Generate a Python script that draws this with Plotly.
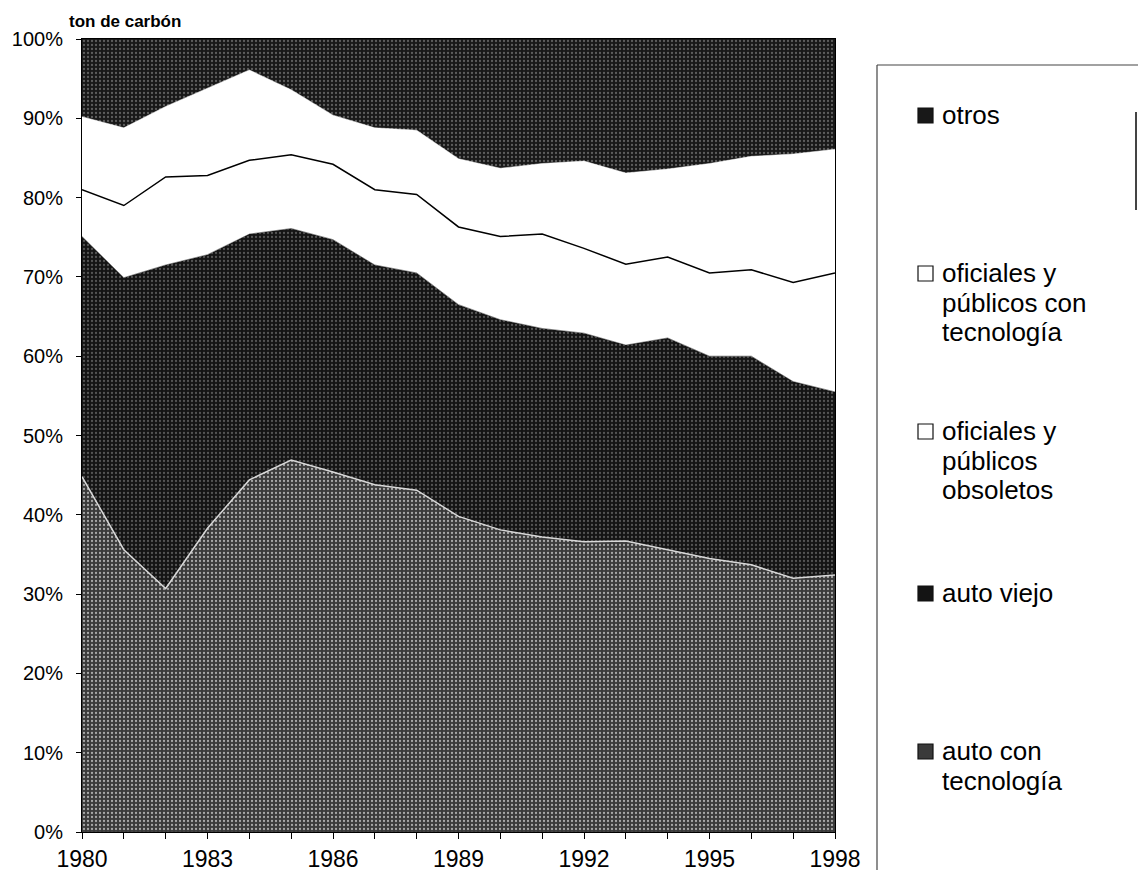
import plotly.graph_objects as go

years = list(range(1980, 1999))
auto_tec = [44.8, 35.6, 30.7, 38.3, 44.4, 46.9, 45.4, 43.8, 43.1, 39.8, 38.1, 37.2, 36.6, 36.7, 35.6, 34.5, 33.7, 32.0, 32.4]
auto_viejo = [30.3, 34.3, 40.8, 34.5, 31.0, 29.2, 29.3, 27.7, 27.4, 26.7, 26.5, 26.3, 26.3, 24.7, 26.7, 25.5, 26.3, 24.8, 23.1]
obsoletos = [5.9, 9.1, 11.1, 10.0, 9.3, 9.3, 9.5, 9.5, 9.9, 9.8, 10.5, 11.9, 10.7, 10.2, 10.2, 10.5, 10.9, 12.5, 15.0]
con_tec = [9.2, 9.8, 8.9, 11.0, 11.4, 8.2, 6.2, 7.8, 8.1, 8.6, 8.6, 8.9, 11.0, 11.5, 11.1, 13.8, 14.3, 16.2, 15.6]
otros = [9.8, 11.2, 8.5, 6.2, 3.9, 6.4, 9.6, 11.2, 11.5, 15.1, 16.3, 15.7, 15.4, 16.9, 16.4, 15.7, 14.8, 14.5, 13.9]

x_labels = {1980: "1980", 1983: "1983", 1986: "1986", 1989: "1989", 1992: "1992", 1995: "1995", 1998: "1998"}
y_ticks = list(range(0, 101, 10))
y_labels = [f"{v}%" for v in y_ticks]

W, H = 1138, 873
L, R, T, B = 82, 835, 39, 832
FONT = "Liberation Sans, Arial, sans-serif"

def px(xp):
    return (xp - L) / (R - L)

def py(yp):
    return (B - yp) / (B - T)

fig = go.Figure()

series = [
    ("auto con tecnología", auto_tec, "#3a3a3a", "#a8a8a8", dict(color="#d8d8d8", width=1.5)),
    ("auto viejo", auto_viejo, "#141414", "#555555", dict(color="#141414", width=0.5)),
    ("oficiales y públicos obsoletos", obsoletos, "#ffffff", "#ffffff", dict(color="#000000", width=1.5)),
    ("oficiales y públicos con tecnología", con_tec, "#ffffff", "#ffffff", dict(color="#ffffff", width=0.5)),
    ("otros", otros, "#181818", "#5e5e5e", dict(color="#181818", width=0.5)),
]

for name, vals, bg, fg, line in series:
    kw = {}
    if bg != "#ffffff":
        kw["fillpattern"] = dict(shape=".", bgcolor=bg, fgcolor=fg, size=4, solidity=0.25, fillmode="replace")
    fig.add_trace(go.Scatter(
        x=years, y=vals, name=name, mode="lines", stackgroup="one",
        fillcolor=bg, line=line, showlegend=False, **kw
    ))

fig.update_layout(
    width=W, height=H,
    margin=dict(l=L, r=W - R, t=T, b=H - B, autoexpand=False),
    paper_bgcolor="white", plot_bgcolor="white",
    font=dict(family=FONT, color="black"),
    xaxis=dict(
        range=[1980, 1998], tickmode="array", tickvals=years,
        ticktext=[x_labels.get(y, "") for y in years],
        ticks="outside", ticklen=6, tickcolor="black", tickwidth=1,
        showline=True, linecolor="black", linewidth=1, mirror=True,
        showgrid=False, zeroline=False, tickfont=dict(size=23, family=FONT),
        automargin=False,
    ),
    yaxis=dict(
        range=[0, 100], tickmode="array", tickvals=y_ticks, ticktext=y_labels,
        ticks="outside", ticklen=5, tickcolor="black", tickwidth=1,
        showline=True, linecolor="black", linewidth=1, mirror=True,
        showgrid=False, zeroline=False, tickfont=dict(size=20, family=FONT),
        ticklabelstandoff=9, automargin=False,
    ),
)

# axis title at top-left
fig.add_annotation(text="<b>ton de carbón</b>", xref="paper", yref="paper",
                   x=px(67), y=py(21), xanchor="left", yanchor="middle",
                   showarrow=False, font=dict(size=17, family=FONT))

# legend frame
fig.add_shape(type="line", xref="paper", yref="paper", x0=px(877), x1=px(1138), y0=py(65), y1=py(65),
              line=dict(color="#444", width=1.2))
fig.add_shape(type="line", xref="paper", yref="paper", x0=px(877), x1=px(877), y0=py(65), y1=py(870),
              line=dict(color="#444", width=1.2))
fig.add_shape(type="line", xref="paper", yref="paper", x0=px(1136), x1=px(1136), y0=py(112), y1=py(210),
              line=dict(color="#444", width=2))

legend_items = [
    (["otros"], 108, "#181818"),
    (["oficiales y", "públicos con", "tecnología"], 266, "#ffffff"),
    (["oficiales y", "públicos", "obsoletos"], 424, "#ffffff"),
    (["auto viejo"], 586, "#141414"),
    (["auto con", "tecnología"], 744, "#3a3a3a"),
]
for lines, sq_top, col in legend_items:
    fig.add_shape(type="rect", xref="paper", yref="paper",
                  x0=px(918), x1=px(933), y0=py(sq_top + 15), y1=py(sq_top),
                  fillcolor=col, line=dict(color="#111", width=1.2))
    for i, t in enumerate(lines):
        fig.add_annotation(text=t, xref="paper", yref="paper",
                           x=px(940), y=py(sq_top + 7 + i * 29.5), xanchor="left", yanchor="middle",
                           showarrow=False, font=dict(size=26, family=FONT))

fig.write_html("out.html", config={"displayModeBar": False},
               post_script="document.body.style.margin='0';document.body.style.overflow='hidden';")
